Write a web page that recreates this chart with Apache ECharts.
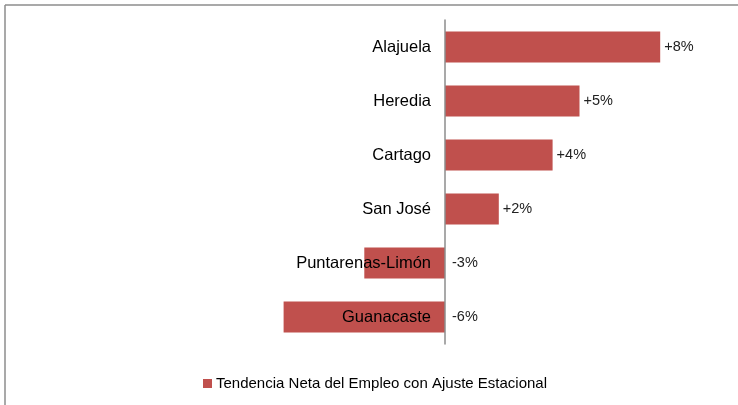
<!DOCTYPE html>
<html>
<head>
<meta charset="utf-8">
<script src="https://cdn.jsdelivr.net/npm/echarts@6/dist/echarts.min.js"></script>
<style>html,body{margin:0;padding:0;background:#fff;}#c{width:738px;height:405px;}</style>
</head>
<body>
<div id="c"></div>
<script>
var categories = ['Alajuela', 'Heredia', 'Cartago', 'San José', 'Puntarenas-Limón', 'Guanacaste'];
var values = [8, 5, 4, 2, -3, -6];
var seriesName = 'Tendencia Neta del Empleo con Ajuste Estacional';

var chart = echarts.init(document.getElementById('c'));
var font = '"Liberation Sans", Arial, sans-serif';
var xMin = -7, xMax = 10, gridLeft = 256.7, gridWidth = 457.3;
var zeroOffset = -gridWidth * (0 - xMin) / (xMax - xMin);
chart.setOption({
  animation: false,
  textStyle: { fontFamily: font },
  grid: { left: gridLeft, width: gridWidth, top: 20, bottom: 61, containLabel: false },
  graphic: [
    { type: 'line', shape: { x1: 5, y1: 5, x2: 738, y2: 5 }, style: { stroke: '#8c8c8c', lineWidth: 1.5 } },
    { type: 'line', shape: { x1: 5, y1: 5, x2: 5, y2: 405 }, style: { stroke: '#8c8c8c', lineWidth: 1.5 } }
  ],
  xAxis: { type: 'value', min: xMin, max: xMax, show: false },
  yAxis: {
    type: 'category', data: categories, inverse: true, z: 10,
    offset: zeroOffset,
    axisLine: { onZero: false, lineStyle: { color: '#8c8c8c', width: 1.5 } },
    axisTick: { show: false },
    axisLabel: { color: '#000', fontSize: 16.5, margin: 14, fontFamily: font }
  },
  legend: {
    bottom: 9, left: 198, icon: 'rect', itemWidth: 9, itemHeight: 9, itemGap: 4,
    textStyle: { fontSize: 15, color: '#000', fontFamily: font, padding: [0, 0, 0, -1] },
    data: [seriesName]
  },
  series: [{
    name: seriesName, type: 'bar', barWidth: '57%',
    data: values.map(function (v) {
      return { value: v, label: { distance: v < 0 ? 7 : 4 } };
    }),
    itemStyle: { color: '#C0504D' },
    label: {
      show: true, position: 'right', color: '#222', fontSize: 14.5, fontFamily: font,
      formatter: function (p) { return (p.value > 0 ? '+' : '') + p.value + '%'; }
    }
  }]
});
</script>
</body>
</html>
